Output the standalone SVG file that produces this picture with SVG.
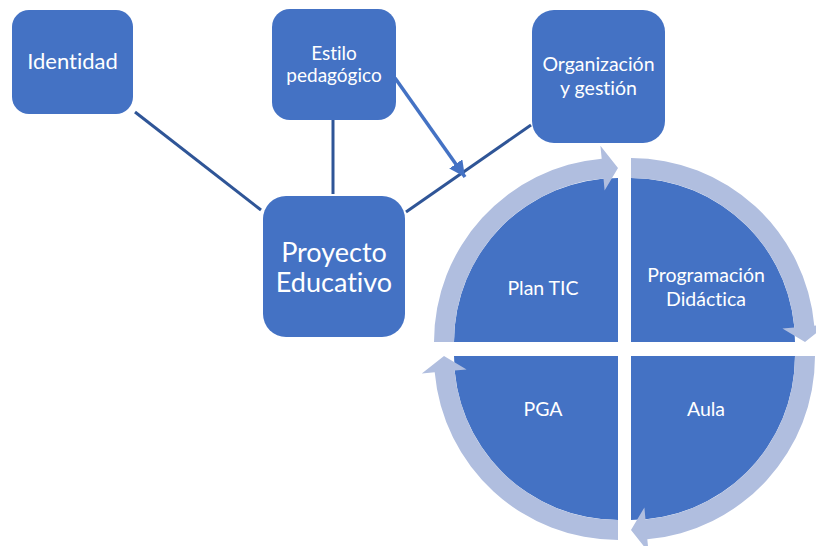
<svg xmlns="http://www.w3.org/2000/svg" xmlns:xlink="http://www.w3.org/1999/xlink" width="816" height="546" viewBox="0 0 816 546">
<style>
.box{fill:#4472C4;}
.t{font-family:Lato,"Open Sans","Liberation Sans",sans-serif;fill:#FFFFFF;text-anchor:middle;font-variant-ligatures:none;}
.conn{stroke:#2F5597;stroke-width:3;fill:none;}
.arr{stroke:#4472C4;stroke-width:3.5;fill:none;}
.quad{fill:#4472C4;}
.ring{fill:#B0BEDF;}
</style>
<defs>
<marker id="ah" markerUnits="userSpaceOnUse" markerWidth="20" markerHeight="20" refX="16" refY="8" orient="auto">
<path d="M0,0 L16,8 L0,16 Z" fill="#4472C4"/>
</marker>
<path id="q" d="M0 0 L-164 0 A164 164 0 0 1 0 -164 Z"/>
<path id="ra" d="M-184 0 A184 184 0 0 1 -16.3 -183.3 L-17.6 -196.2 L0 -174 L-13.4 -151.4 L-14.5 -163.4 A164 164 0 0 0 -164 0 Z"/>
</defs>
<g id="connectors">
<line class="conn" x1="135" y1="112" x2="261" y2="210"/>
<line class="conn" x1="333" y1="120" x2="333" y2="194"/>
<line class="conn" x1="531" y1="125" x2="406" y2="212"/>
<line class="arr" x1="395" y1="78" x2="465" y2="177" marker-end="url(#ah)"/>
</g>
<g id="identidad">
<rect class="box" x="12" y="10" width="121" height="104" rx="17"/>
<text class="t" x="72.5" y="69" font-size="22">Identidad</text>
</g>
<g id="estilo">
<rect class="box" x="272" y="9" width="124" height="111" rx="18"/>
<text class="t" x="334" y="60" font-size="19">Estilo</text>
<text class="t" x="334" y="82" font-size="19">pedagógico</text>
</g>
<g id="organizacion">
<rect class="box" x="532" y="10" width="133" height="133" rx="22"/>
<text class="t" x="598.5" y="71" font-size="19.5">Organización</text>
<text class="t" x="598.5" y="95" font-size="19.5">y gestión</text>
</g>
<g id="proyecto">
<rect class="box" x="263" y="196" width="142" height="141" rx="23"/>
<text class="t" x="334" y="262" font-size="27">Proyecto</text>
<text class="t" x="334" y="292" font-size="27">Educativo</text>
</g>
<g id="cycle">
<g id="plan-tic">
<use xlink:href="#q" class="quad" transform="translate(618,342)"/>
<text class="t" x="543" y="295" font-size="19.5">Plan TIC</text>
</g>
<g id="programacion">
<use xlink:href="#q" class="quad" transform="translate(631,342) rotate(90)"/>
<text class="t" x="706" y="282" font-size="19.5">Programación</text>
<text class="t" x="706" y="306" font-size="19.5">Didáctica</text>
</g>
<g id="aula">
<use xlink:href="#q" class="quad" transform="translate(631,356) rotate(180)"/>
<text class="t" x="706" y="416" font-size="19.5">Aula</text>
</g>
<g id="pga">
<use xlink:href="#q" class="quad" transform="translate(618,356) rotate(270)"/>
<text class="t" x="543" y="416" font-size="19.5">PGA</text>
</g>
<g id="ring-arrows">
<use xlink:href="#ra" class="ring" transform="translate(618,342)"/>
<use xlink:href="#ra" class="ring" transform="translate(631,342) rotate(90)"/>
<use xlink:href="#ra" class="ring" transform="translate(631,356) rotate(180)"/>
<use xlink:href="#ra" class="ring" transform="translate(618,356) rotate(270)"/>
</g>
</g>
</svg>
